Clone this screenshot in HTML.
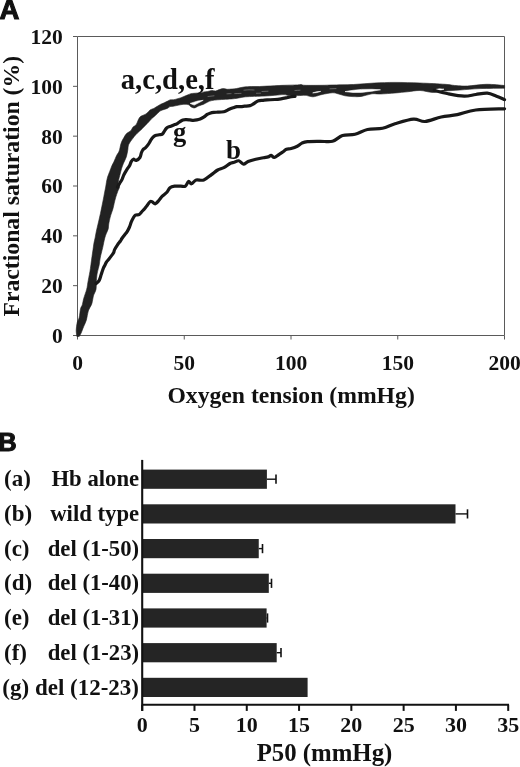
<!DOCTYPE html>
<html><head><meta charset="utf-8"><style>
html,body{margin:0;padding:0;background:#fff;}
body{width:520px;height:767px;overflow:hidden;font-family:"Liberation Serif",serif;}
svg{display:block;filter:grayscale(1);}
</style></head><body>
<svg width="520" height="767" viewBox="0 0 520 767" fill="#111">
<line x1="77.5" y1="36.5" x2="77.5" y2="335.5" stroke="#5a5a5a" stroke-width="1"/>
<line x1="77.5" y1="335.5" x2="504.5" y2="335.5" stroke="#5a5a5a" stroke-width="1"/>
<line x1="77.5" y1="36.5" x2="504.5" y2="36.5" stroke="#5a5a5a" stroke-width="1"/>
<line x1="504.5" y1="36.5" x2="504.5" y2="335.5" stroke="#5a5a5a" stroke-width="1"/>
<line x1="73" y1="335.50" x2="77.5" y2="335.50" stroke="#5a5a5a" stroke-width="1"/>
<line x1="73" y1="285.67" x2="77.5" y2="285.67" stroke="#5a5a5a" stroke-width="1"/>
<line x1="73" y1="235.83" x2="77.5" y2="235.83" stroke="#5a5a5a" stroke-width="1"/>
<line x1="73" y1="186.00" x2="77.5" y2="186.00" stroke="#5a5a5a" stroke-width="1"/>
<line x1="73" y1="136.17" x2="77.5" y2="136.17" stroke="#5a5a5a" stroke-width="1"/>
<line x1="73" y1="86.33" x2="77.5" y2="86.33" stroke="#5a5a5a" stroke-width="1"/>
<line x1="73" y1="36.50" x2="77.5" y2="36.50" stroke="#5a5a5a" stroke-width="1"/>
<line x1="77.50" y1="335.5" x2="77.50" y2="339.5" stroke="#5a5a5a" stroke-width="1"/>
<line x1="184.25" y1="335.5" x2="184.25" y2="339.5" stroke="#5a5a5a" stroke-width="1"/>
<line x1="291.00" y1="335.5" x2="291.00" y2="339.5" stroke="#5a5a5a" stroke-width="1"/>
<line x1="397.75" y1="335.5" x2="397.75" y2="339.5" stroke="#5a5a5a" stroke-width="1"/>
<line x1="504.50" y1="335.5" x2="504.50" y2="339.5" stroke="#5a5a5a" stroke-width="1"/>
<text x="62.8" y="342.90" font-family="Liberation Serif" font-weight="bold" font-size="21.5" text-anchor="end">0</text>
<text x="62.8" y="293.07" font-family="Liberation Serif" font-weight="bold" font-size="21.5" text-anchor="end">20</text>
<text x="62.8" y="243.23" font-family="Liberation Serif" font-weight="bold" font-size="21.5" text-anchor="end">40</text>
<text x="62.8" y="193.40" font-family="Liberation Serif" font-weight="bold" font-size="21.5" text-anchor="end">60</text>
<text x="62.8" y="143.57" font-family="Liberation Serif" font-weight="bold" font-size="21.5" text-anchor="end">80</text>
<text x="62.8" y="93.73" font-family="Liberation Serif" font-weight="bold" font-size="21.5" text-anchor="end">100</text>
<text x="62.8" y="43.90" font-family="Liberation Serif" font-weight="bold" font-size="21.5" text-anchor="end">120</text>
<text x="77.50" y="370" font-family="Liberation Serif" font-weight="bold" font-size="21.5" text-anchor="middle">0</text>
<text x="184.25" y="370" font-family="Liberation Serif" font-weight="bold" font-size="21.5" text-anchor="middle">50</text>
<text x="291.00" y="370" font-family="Liberation Serif" font-weight="bold" font-size="21.5" text-anchor="middle">100</text>
<text x="397.75" y="370" font-family="Liberation Serif" font-weight="bold" font-size="21.5" text-anchor="middle">150</text>
<text x="504.50" y="370" font-family="Liberation Serif" font-weight="bold" font-size="21.5" text-anchor="middle">200</text>
<text x="291.1" y="402.8" font-family="Liberation Serif" font-weight="bold" font-size="23.7" text-anchor="middle">Oxygen tension (mmHg)</text>
<text transform="translate(19.3,186.2) rotate(-90)" font-family="Liberation Serif" font-weight="bold" font-size="23.7" text-anchor="middle">Fractional saturation (%)</text>
<text x="-0.5" y="18.6" font-family="Liberation Sans" font-weight="bold" font-size="27.5" stroke="#111" stroke-width="1.1">A</text>
<text x="-1.8" y="451.2" font-family="Liberation Sans" font-weight="bold" font-size="25.5" stroke="#111" stroke-width="1.1">B</text>
<path d="M76.90,336.50 C76.78,335.48 76.15,332.72 76.20,330.40 C76.25,328.08 76.70,324.77 77.20,322.60 C77.70,320.43 78.65,319.68 79.20,317.40 C79.75,315.12 79.97,311.07 80.50,308.90 C81.03,306.73 81.87,306.13 82.40,304.40 C82.93,302.67 82.98,301.03 83.70,298.50 C84.42,295.97 86.02,291.80 86.70,289.20 C87.38,286.60 87.45,284.87 87.80,282.90 C88.15,280.93 88.45,279.25 88.80,277.40 C89.15,275.55 89.55,273.88 89.90,271.80 C90.25,269.72 90.55,267.43 90.90,264.90 C91.25,262.37 91.65,259.13 92.00,256.60 C92.35,254.07 92.67,252.00 93.00,249.70 C93.33,247.40 93.65,244.77 94.00,242.80 C94.35,240.83 94.75,239.63 95.10,237.90 C95.45,236.17 95.75,234.13 96.10,232.40 C96.45,230.67 96.80,229.23 97.20,227.50 C97.60,225.77 97.97,224.30 98.50,222.00 C99.03,219.70 99.85,216.23 100.40,213.70 C100.95,211.17 101.33,209.10 101.80,206.80 C102.27,204.50 102.75,202.22 103.20,199.90 C103.65,197.58 104.08,195.05 104.50,192.90 C104.92,190.75 105.38,188.73 105.70,187.00 C106.02,185.27 106.08,184.17 106.40,182.50 C106.72,180.83 107.05,178.83 107.60,177.00 C108.15,175.17 109.00,173.35 109.70,171.50 C110.40,169.65 111.10,167.52 111.80,165.90 C112.50,164.28 113.10,163.53 113.90,161.80 C114.70,160.07 115.72,157.30 116.60,155.50 C117.48,153.70 118.45,153.05 119.20,151.00 C119.95,148.95 120.32,145.43 121.10,143.20 C121.88,140.97 122.98,139.22 123.90,137.60 C124.82,135.98 125.45,134.65 126.60,133.50 C127.75,132.35 129.75,131.75 130.80,130.70 C131.85,129.65 131.98,128.23 132.90,127.20 C133.82,126.17 135.38,125.77 136.30,124.50 C137.22,123.23 137.70,120.93 138.40,119.60 C139.10,118.27 139.52,117.30 140.50,116.50 C141.48,115.70 143.23,115.35 144.30,114.80 C145.37,114.25 145.88,114.03 146.90,113.20 C147.92,112.37 149.23,110.60 150.40,109.80 C151.57,109.00 152.75,108.98 153.90,108.40 C155.05,107.82 156.15,107.00 157.30,106.30 C158.45,105.60 159.65,104.78 160.80,104.20 C161.95,103.62 163.05,103.32 164.20,102.80 C165.35,102.28 166.73,101.58 167.70,101.10 C168.67,100.62 169.03,100.12 170.00,99.90 C170.97,99.68 172.35,99.97 173.50,99.80 C174.65,99.63 175.75,99.22 176.90,98.90 C178.05,98.58 179.23,98.30 180.40,97.90 C181.57,97.50 182.75,96.97 183.90,96.50 C185.05,96.03 186.15,95.57 187.30,95.10 C188.45,94.63 189.65,94.00 190.80,93.70 C191.95,93.40 193.05,93.42 194.20,93.30 C195.35,93.18 196.53,93.08 197.70,93.00 C198.87,92.92 200.15,92.98 201.20,92.80 C202.25,92.62 202.90,92.12 204.00,91.90 C205.10,91.68 206.52,91.75 207.80,91.50 C209.08,91.25 210.42,90.48 211.70,90.40 C212.98,90.32 214.22,91.13 215.50,91.00 C216.78,90.87 218.12,90.00 219.40,89.60 C220.68,89.20 221.92,88.65 223.20,88.60 C224.48,88.55 225.82,89.22 227.10,89.30 C228.38,89.38 229.62,89.18 230.90,89.10 C232.18,89.02 233.52,88.97 234.80,88.80 C236.08,88.63 237.07,88.40 238.60,88.10 C240.13,87.80 241.82,87.27 244.00,87.00 C246.18,86.73 249.13,86.58 251.70,86.50 C254.27,86.42 256.83,86.57 259.40,86.50 C261.97,86.43 264.53,86.23 267.10,86.10 C269.67,85.97 271.98,85.83 274.80,85.70 C277.62,85.57 280.23,85.43 284.00,85.30 C287.77,85.17 294.53,85.03 297.40,84.90 C300.27,84.77 299.92,84.43 301.20,84.50 C302.48,84.57 301.63,85.17 305.10,85.30 C308.57,85.43 317.52,85.35 322.00,85.30 C326.48,85.25 326.75,85.13 332.00,85.00 C337.25,84.87 346.40,84.83 353.50,84.50 C360.60,84.17 367.68,83.35 374.60,83.00 C381.52,82.65 387.43,82.40 395.00,82.40 C402.57,82.40 411.67,82.68 420.00,83.00 C428.33,83.32 439.00,83.87 445.00,84.30 C451.00,84.73 452.25,85.32 456.00,85.60 C459.75,85.88 462.45,86.22 467.50,86.00 C472.55,85.78 480.12,84.38 486.30,84.30 C492.48,84.22 501.55,85.30 504.60,85.50 L504.6,88.2 C500.50,88.27 487.43,88.30 480.00,88.60 C472.57,88.90 465.83,89.60 460.00,90.00 C454.17,90.40 449.58,90.60 445.00,91.00 C440.42,91.40 436.67,92.48 432.50,92.40 C428.33,92.32 424.17,90.60 420.00,90.50 C415.83,90.40 411.67,91.38 407.50,91.80 C403.33,92.22 399.50,92.63 395.00,93.00 C390.50,93.37 384.33,93.87 380.50,94.00 C376.67,94.13 375.17,93.40 372.00,93.80 C368.83,94.20 364.67,95.93 361.50,96.40 C358.33,96.87 355.75,96.70 353.00,96.60 C350.25,96.50 347.50,96.27 345.00,95.80 C342.50,95.33 340.12,94.30 338.00,93.80 C335.88,93.30 334.97,92.68 332.30,92.80 C329.63,92.92 324.62,93.95 322.00,94.50 C319.38,95.05 318.13,95.72 316.60,96.10 C315.07,96.48 314.08,96.80 312.80,96.80 C311.52,96.80 310.18,96.35 308.90,96.10 C307.62,95.85 307.02,95.38 305.10,95.30 C303.18,95.22 300.25,95.58 297.40,95.60 C294.55,95.62 290.23,95.57 288.00,95.40 C285.77,95.23 286.20,94.62 284.00,94.60 C281.80,94.58 278.13,95.05 274.80,95.30 C271.47,95.55 267.85,95.90 264.00,96.10 C260.15,96.30 255.03,96.35 251.70,96.50 C248.37,96.65 246.18,96.75 244.00,97.00 C241.82,97.25 240.42,97.70 238.60,98.00 C236.78,98.30 235.30,98.58 233.10,98.80 C230.90,99.02 227.97,99.13 225.40,99.30 C222.83,99.47 219.98,99.58 217.70,99.80 C215.42,100.02 213.35,100.23 211.70,100.60 C210.05,100.97 209.13,101.40 207.80,102.00 C206.47,102.60 205.15,103.57 203.70,104.20 C202.25,104.83 200.25,105.35 199.10,105.80 C197.95,106.25 197.65,106.53 196.80,106.90 C195.95,107.27 195.05,108.07 194.00,108.00 C192.95,107.93 191.38,107.03 190.50,106.50 C189.62,105.97 189.80,105.17 188.70,104.80 C187.60,104.43 185.28,104.30 183.90,104.30 C182.52,104.30 181.57,104.60 180.40,104.80 C179.23,105.00 178.05,105.27 176.90,105.50 C175.75,105.73 174.65,106.02 173.50,106.20 C172.35,106.38 170.97,106.27 170.00,106.60 C169.03,106.93 168.67,107.73 167.70,108.20 C166.73,108.67 165.32,109.00 164.20,109.40 C163.08,109.80 161.83,110.20 161.00,110.60 C160.17,111.00 160.13,111.00 159.20,111.80 C158.27,112.60 156.68,114.23 155.40,115.40 C154.12,116.57 152.78,117.52 151.50,118.80 C150.22,120.08 148.98,121.75 147.70,123.10 C146.42,124.45 145.08,125.62 143.80,126.90 C142.52,128.18 140.78,130.03 140.00,130.80 C139.22,131.57 139.83,130.82 139.10,131.50 C138.37,132.18 136.63,133.77 135.60,134.90 C134.57,136.03 134.05,136.70 132.90,138.30 C131.75,139.90 129.55,142.55 128.70,144.50 C127.85,146.45 128.20,147.93 127.80,150.00 C127.40,152.07 127.02,154.70 126.30,156.90 C125.58,159.10 124.30,161.23 123.50,163.20 C122.70,165.17 122.07,166.87 121.50,168.70 C120.93,170.53 120.57,172.35 120.10,174.20 C119.63,176.05 119.02,178.08 118.70,179.80 C118.38,181.52 118.07,183.30 118.20,184.50 C118.33,185.70 119.58,185.83 119.50,187.00 C119.42,188.17 118.35,189.70 117.70,191.50 C117.05,193.30 116.18,195.83 115.60,197.80 C115.02,199.77 114.65,201.45 114.20,203.30 C113.75,205.15 113.47,206.93 112.90,208.90 C112.33,210.87 111.38,213.15 110.80,215.10 C110.22,217.05 109.77,218.95 109.40,220.60 C109.03,222.25 108.80,223.62 108.60,225.00 C108.40,226.38 108.60,227.43 108.20,228.90 C107.80,230.37 106.77,232.30 106.20,233.80 C105.63,235.30 105.22,236.40 104.80,237.90 C104.38,239.40 104.05,241.18 103.70,242.80 C103.35,244.42 103.10,245.87 102.70,247.60 C102.30,249.33 101.72,251.47 101.30,253.20 C100.88,254.93 100.55,256.05 100.20,258.00 C99.85,259.95 99.65,262.60 99.20,264.90 C98.75,267.20 97.90,269.95 97.50,271.80 C97.10,273.65 97.00,274.30 96.80,276.00 C96.60,277.70 96.43,279.75 96.30,282.00 C96.17,284.25 96.43,287.33 96.00,289.50 C95.57,291.67 94.23,293.42 93.70,295.00 C93.17,296.58 93.15,297.43 92.80,299.00 C92.45,300.57 92.35,302.42 91.60,304.40 C90.85,306.38 89.17,308.30 88.30,310.90 C87.43,313.50 87.17,317.40 86.40,320.00 C85.63,322.60 84.58,324.32 83.70,326.50 C82.82,328.68 81.85,331.43 81.10,333.10 C80.35,334.77 79.52,335.93 79.20,336.50 Z" fill="#222" stroke="#222" stroke-width="0.6" stroke-linejoin="round"/>
<path d="M227.00,93.80 C227.67,93.77 230.33,93.63 231.00,93.60" fill="none" stroke="#777" stroke-width="0.8" stroke-linecap="round"/>
<path d="M234.80,93.60 C235.83,93.57 239.97,93.43 241.00,93.40" fill="none" stroke="#777" stroke-width="0.8" stroke-linecap="round"/>
<path d="M244.00,90.20 C244.83,90.13 247.33,89.83 249.00,89.80 C250.67,89.77 253.17,89.97 254.00,90.00" fill="none" stroke="#777" stroke-width="0.8" stroke-linecap="round"/>
<path d="M256.50,93.30 C257.17,93.28 259.83,93.22 260.50,93.20" fill="none" stroke="#777" stroke-width="0.8" stroke-linecap="round"/>
<path d="M208.00,96.50 C209.00,96.38 213.00,95.92 214.00,95.80" fill="none" stroke="#777" stroke-width="0.8" stroke-linecap="round"/>
<path d="M262.00,91.50 C263.00,91.45 267.00,91.25 268.00,91.20" fill="none" stroke="#777" stroke-width="0.8" stroke-linecap="round"/>
<path d="M295.00,90.50 C295.83,90.45 299.17,90.25 300.00,90.20" fill="none" stroke="#777" stroke-width="0.8" stroke-linecap="round"/>
<path d="M330.00,88.80 C331.00,88.77 335.00,88.63 336.00,88.60" fill="none" stroke="#777" stroke-width="0.8" stroke-linecap="round"/>
<polygon points="190.1,103.4 197.7,101.0 203.2,100.3 199.0,102.6 194.2,105.1" fill="#fff" stroke="#fff" stroke-width="0.6" stroke-linejoin="round"/>
<polygon points="345.0,91.6 353.0,90.3 361.5,89.4 372.0,89.3 380.5,89.8 372.0,91.2 361.5,92.4 353.0,92.5" fill="#fff" stroke="#fff" stroke-width="0.6" stroke-linejoin="round"/>
<polygon points="312.7,92.9 316.5,91.8 320.7,91.4 316.5,92.6" fill="#fff" stroke="#fff" stroke-width="0.6" stroke-linejoin="round"/>
<polygon points="435.0,89.6 439.5,88.8 444.0,89.2 439.5,90.4" fill="#fff" stroke="#fff" stroke-width="0.6" stroke-linejoin="round"/>
<path d="M117.50,187.00 C117.93,186.25 119.32,183.82 120.10,182.50 C120.88,181.18 121.63,180.25 122.20,179.10 C122.77,177.95 123.05,176.63 123.50,175.60 C123.95,174.57 124.32,173.93 124.90,172.90 C125.48,171.87 126.42,170.33 127.00,169.40 C127.58,168.47 127.93,168.00 128.40,167.30 C128.87,166.60 129.33,166.15 129.80,165.20 C130.27,164.25 130.60,162.60 131.20,161.60 C131.80,160.60 132.57,159.40 133.40,159.20 C134.23,159.00 135.12,160.68 136.20,160.40 C137.28,160.12 139.02,158.82 139.90,157.50 C140.78,156.18 140.97,153.83 141.50,152.50 C142.03,151.17 142.45,150.27 143.10,149.50 C143.75,148.73 144.50,148.80 145.40,147.90 C146.30,147.00 147.60,145.38 148.50,144.10 C149.40,142.82 150.03,141.35 150.80,140.20 C151.57,139.05 152.33,137.97 153.10,137.20 C153.87,136.43 154.38,136.00 155.40,135.60 C156.42,135.20 158.05,135.05 159.20,134.80 C160.35,134.55 161.40,134.77 162.30,134.10 C163.20,133.43 163.95,131.73 164.60,130.80 C165.25,129.87 165.55,129.15 166.20,128.50 C166.85,127.85 167.73,127.28 168.50,126.90 C169.27,126.52 169.92,126.52 170.80,126.20 C171.68,125.88 172.78,125.40 173.80,125.00 C174.82,124.60 175.95,124.30 176.90,123.80 C177.85,123.30 178.50,122.65 179.50,122.00 C180.50,121.35 181.75,120.30 182.90,119.90 C184.05,119.50 185.23,119.60 186.40,119.60 C187.57,119.60 188.75,119.78 189.90,119.90 C191.05,120.02 192.15,120.30 193.30,120.30 C194.45,120.30 195.65,120.13 196.80,119.90 C197.95,119.67 199.05,119.35 200.20,118.90 C201.35,118.45 202.53,117.95 203.70,117.20 C204.87,116.45 206.15,115.07 207.20,114.40 C208.25,113.73 208.90,113.53 210.00,113.20 C211.10,112.87 212.52,112.57 213.80,112.40 C215.08,112.23 216.42,112.27 217.70,112.20 C218.98,112.13 220.22,112.17 221.50,112.00 C222.78,111.83 224.12,111.65 225.40,111.20 C226.68,110.75 227.92,109.87 229.20,109.30 C230.48,108.73 231.82,108.25 233.10,107.80 C234.38,107.35 235.62,106.80 236.90,106.60 C238.18,106.40 239.52,106.67 240.80,106.60 C242.08,106.53 243.07,106.37 244.60,106.20 C246.13,106.03 248.43,106.05 250.00,105.60 C251.57,105.15 252.70,104.27 254.00,103.50 C255.30,102.73 256.27,101.53 257.80,101.00 C259.33,100.47 261.65,100.48 263.20,100.30 C264.75,100.12 265.17,100.03 267.10,99.90 C269.03,99.77 272.48,99.68 274.80,99.50 C277.12,99.32 279.13,99.07 281.00,98.80 C282.87,98.53 284.50,98.20 286.00,97.90 C287.50,97.60 288.50,97.27 290.00,97.00 C291.50,96.73 294.17,96.42 295.00,96.30" fill="none" stroke="#181818" stroke-width="3.2" stroke-linejoin="round" stroke-linecap="round"/>
<path d="M434.20,90.40 C436.50,90.97 443.00,92.83 448.00,93.80 C453.00,94.77 459.57,96.08 464.20,96.20 C468.83,96.32 471.95,95.00 475.80,94.50 C479.65,94.00 483.85,92.92 487.30,93.20 C490.75,93.48 493.62,95.13 496.50,96.20 C499.38,97.27 503.25,99.03 504.60,99.60" fill="none" stroke="#181818" stroke-width="3.2" stroke-linejoin="round" stroke-linecap="round"/>
<path d="M96.10,283.50 C96.62,282.98 98.35,281.88 99.20,280.40 C100.05,278.92 100.55,276.53 101.20,274.60 C101.85,272.67 102.47,270.40 103.10,268.80 C103.73,267.20 104.45,266.12 105.00,265.00 C105.55,263.88 105.77,263.07 106.40,262.10 C107.03,261.13 107.92,260.32 108.80,259.20 C109.68,258.08 110.88,256.52 111.70,255.40 C112.52,254.28 113.22,253.47 113.70,252.50 C114.18,251.53 113.97,250.88 114.60,249.60 C115.23,248.32 116.53,246.23 117.50,244.80 C118.47,243.37 119.67,242.05 120.40,241.00 C121.13,239.95 121.22,239.50 121.90,238.50 C122.58,237.50 123.60,236.20 124.50,235.00 C125.40,233.80 126.47,232.63 127.30,231.30 C128.13,229.97 128.83,228.57 129.50,227.00 C130.17,225.43 130.63,223.48 131.30,221.90 C131.97,220.32 132.82,218.62 133.50,217.50 C134.18,216.38 134.42,215.73 135.40,215.20 C136.38,214.67 138.30,214.92 139.40,214.30 C140.50,213.68 141.10,212.47 142.00,211.50 C142.90,210.53 143.88,209.58 144.80,208.50 C145.72,207.42 146.60,206.17 147.50,205.00 C148.40,203.83 149.37,202.00 150.20,201.50 C151.03,201.00 151.63,201.62 152.50,202.00 C153.37,202.38 154.28,204.13 155.40,203.80 C156.52,203.47 158.05,201.27 159.20,200.00 C160.35,198.73 161.02,197.48 162.30,196.20 C163.58,194.92 165.62,193.72 166.90,192.30 C168.18,190.88 168.72,188.72 170.00,187.70 C171.28,186.68 172.80,186.45 174.60,186.20 C176.40,185.95 179.00,186.20 180.80,186.20 C182.60,186.20 184.12,186.98 185.40,186.20 C186.68,185.42 187.48,181.90 188.50,181.50 C189.52,181.10 190.22,184.05 191.50,183.80 C192.78,183.55 194.15,180.63 196.20,180.00 C198.25,179.37 201.25,180.90 203.80,180.00 C206.35,179.10 209.18,176.27 211.50,174.60 C213.82,172.93 215.65,171.15 217.70,170.00 C219.75,168.85 221.75,168.78 223.80,167.70 C225.85,166.62 228.27,164.40 230.00,163.50 C231.73,162.60 232.73,162.75 234.20,162.30 C235.67,161.85 237.25,160.48 238.80,160.80 C240.35,161.12 241.95,164.08 243.50,164.20 C245.05,164.32 246.05,162.33 248.10,161.50 C250.15,160.67 253.23,159.83 255.80,159.20 C258.37,158.57 261.45,158.08 263.50,157.70 C265.55,157.32 266.82,157.28 268.10,156.90 C269.38,156.52 270.18,155.30 271.20,155.40 C272.22,155.50 272.93,157.63 274.20,157.50 C275.47,157.37 277.25,155.60 278.80,154.60 C280.35,153.60 282.22,152.40 283.50,151.50 C284.78,150.60 285.22,149.70 286.50,149.20 C287.78,148.70 289.40,149.00 291.20,148.50 C293.00,148.00 295.52,147.10 297.30,146.20 C299.08,145.30 300.20,143.87 301.90,143.10 C303.60,142.33 304.48,141.90 307.50,141.60 C310.52,141.30 315.83,141.35 320.00,141.30 C324.17,141.25 328.75,142.27 332.50,141.30 C336.25,140.33 338.75,136.67 342.50,135.50 C346.25,134.33 350.83,135.30 355.00,134.30 C359.17,133.30 362.92,130.50 367.50,129.50 C372.08,128.50 377.92,129.25 382.50,128.30 C387.08,127.35 389.83,125.32 395.00,123.80 C400.17,122.28 408.50,119.58 413.50,119.20 C418.50,118.82 420.38,121.87 425.00,121.50 C429.62,121.13 435.82,118.15 441.20,117.00 C446.58,115.85 451.53,115.77 457.30,114.60 C463.07,113.43 467.92,110.97 475.80,110.00 C483.68,109.03 499.80,109.00 504.60,108.80" fill="none" stroke="#181818" stroke-width="3.2" stroke-linejoin="round" stroke-linecap="round"/>
<text x="120.8" y="89.0" font-family="Liberation Serif" font-weight="bold" font-size="28.6">a,c,d,e,f</text>
<text x="173" y="140.7" font-family="Liberation Serif" font-weight="bold" font-size="26.5">g</text>
<text x="225.9" y="159.3" font-family="Liberation Serif" font-weight="bold" font-size="27">b</text>
<rect x="142.2" y="469.60" width="124.70" height="19.2" fill="#252525"/>
<line x1="266.9" y1="479.20" x2="276" y2="479.20" stroke="#111" stroke-width="1.4"/>
<line x1="276" y1="474.60" x2="276" y2="483.80" stroke="#111" stroke-width="1.6"/>
<text x="4" y="486.30" font-family="Liberation Serif" font-weight="bold" font-size="23">(a)</text>
<text x="139.1" y="486.30" font-family="Liberation Serif" font-weight="bold" font-size="22.7" text-anchor="end">Hb alone</text>
<rect x="142.2" y="504.30" width="313.30" height="19.2" fill="#252525"/>
<line x1="455.5" y1="513.90" x2="467.5" y2="513.90" stroke="#111" stroke-width="1.4"/>
<line x1="467.5" y1="509.30" x2="467.5" y2="518.50" stroke="#111" stroke-width="1.6"/>
<text x="4" y="521.00" font-family="Liberation Serif" font-weight="bold" font-size="23">(b)</text>
<text x="139.1" y="521.00" font-family="Liberation Serif" font-weight="bold" font-size="22.7" text-anchor="end">wild type</text>
<rect x="142.2" y="539.00" width="116.55" height="19.2" fill="#252525"/>
<line x1="258.75" y1="548.60" x2="262.5" y2="548.60" stroke="#111" stroke-width="1.4"/>
<line x1="262.5" y1="544.00" x2="262.5" y2="553.20" stroke="#111" stroke-width="1.6"/>
<text x="4" y="555.70" font-family="Liberation Serif" font-weight="bold" font-size="23">(c)</text>
<text x="139.1" y="555.70" font-family="Liberation Serif" font-weight="bold" font-size="22.7" text-anchor="end">del (1-50)</text>
<rect x="142.2" y="573.70" width="126.60" height="19.2" fill="#252525"/>
<line x1="268.8" y1="583.30" x2="271.5" y2="583.30" stroke="#111" stroke-width="1.4"/>
<line x1="271.5" y1="578.70" x2="271.5" y2="587.90" stroke="#111" stroke-width="1.6"/>
<text x="4" y="590.40" font-family="Liberation Serif" font-weight="bold" font-size="23">(d)</text>
<text x="139.1" y="590.40" font-family="Liberation Serif" font-weight="bold" font-size="22.7" text-anchor="end">del (1-40)</text>
<rect x="142.2" y="608.40" width="124.40" height="19.2" fill="#252525"/>
<line x1="266.6" y1="618.00" x2="267.5" y2="618.00" stroke="#111" stroke-width="1.4"/>
<line x1="267.5" y1="613.40" x2="267.5" y2="622.60" stroke="#111" stroke-width="1.6"/>
<text x="4" y="625.10" font-family="Liberation Serif" font-weight="bold" font-size="23">(e)</text>
<text x="139.1" y="625.10" font-family="Liberation Serif" font-weight="bold" font-size="22.7" text-anchor="end">del (1-31)</text>
<rect x="142.2" y="643.10" width="134.50" height="19.2" fill="#252525"/>
<line x1="276.7" y1="652.70" x2="281" y2="652.70" stroke="#111" stroke-width="1.4"/>
<line x1="281" y1="648.10" x2="281" y2="657.30" stroke="#111" stroke-width="1.6"/>
<text x="4" y="659.80" font-family="Liberation Serif" font-weight="bold" font-size="23">(f)</text>
<text x="139.1" y="659.80" font-family="Liberation Serif" font-weight="bold" font-size="22.7" text-anchor="end">del (1-23)</text>
<rect x="142.2" y="677.80" width="165.40" height="19.2" fill="#252525"/>
<text x="139" y="694.50" font-family="Liberation Serif" font-weight="bold" font-size="23" text-anchor="end">(g) del (12-23)</text>
<line x1="142.2" y1="459.9" x2="142.2" y2="710.9" stroke="#111" stroke-width="2.1"/>
<line x1="142.2" y1="704.7" x2="509" y2="704.7" stroke="#111" stroke-width="2.1"/>
<line x1="142.20" y1="704.7" x2="142.20" y2="710.9" stroke="#111" stroke-width="2"/>
<text x="142.20" y="732" font-family="Liberation Serif" font-weight="bold" font-size="22" text-anchor="middle">0</text>
<line x1="194.49" y1="704.7" x2="194.49" y2="710.9" stroke="#111" stroke-width="2"/>
<text x="194.49" y="732" font-family="Liberation Serif" font-weight="bold" font-size="22" text-anchor="middle">5</text>
<line x1="246.77" y1="704.7" x2="246.77" y2="710.9" stroke="#111" stroke-width="2"/>
<text x="246.77" y="732" font-family="Liberation Serif" font-weight="bold" font-size="22" text-anchor="middle">10</text>
<line x1="299.06" y1="704.7" x2="299.06" y2="710.9" stroke="#111" stroke-width="2"/>
<text x="299.06" y="732" font-family="Liberation Serif" font-weight="bold" font-size="22" text-anchor="middle">15</text>
<line x1="351.34" y1="704.7" x2="351.34" y2="710.9" stroke="#111" stroke-width="2"/>
<text x="351.34" y="732" font-family="Liberation Serif" font-weight="bold" font-size="22" text-anchor="middle">20</text>
<line x1="403.63" y1="704.7" x2="403.63" y2="710.9" stroke="#111" stroke-width="2"/>
<text x="403.63" y="732" font-family="Liberation Serif" font-weight="bold" font-size="22" text-anchor="middle">25</text>
<line x1="455.91" y1="704.7" x2="455.91" y2="710.9" stroke="#111" stroke-width="2"/>
<text x="455.91" y="732" font-family="Liberation Serif" font-weight="bold" font-size="22" text-anchor="middle">30</text>
<line x1="508.20" y1="704.7" x2="508.20" y2="710.9" stroke="#111" stroke-width="2"/>
<text x="508.20" y="732" font-family="Liberation Serif" font-weight="bold" font-size="22" text-anchor="middle">35</text>
<text x="324.5" y="761.1" font-family="Liberation Serif" font-weight="bold" font-size="24.8" text-anchor="middle">P50 (mmHg)</text>
</svg>
</body></html>
